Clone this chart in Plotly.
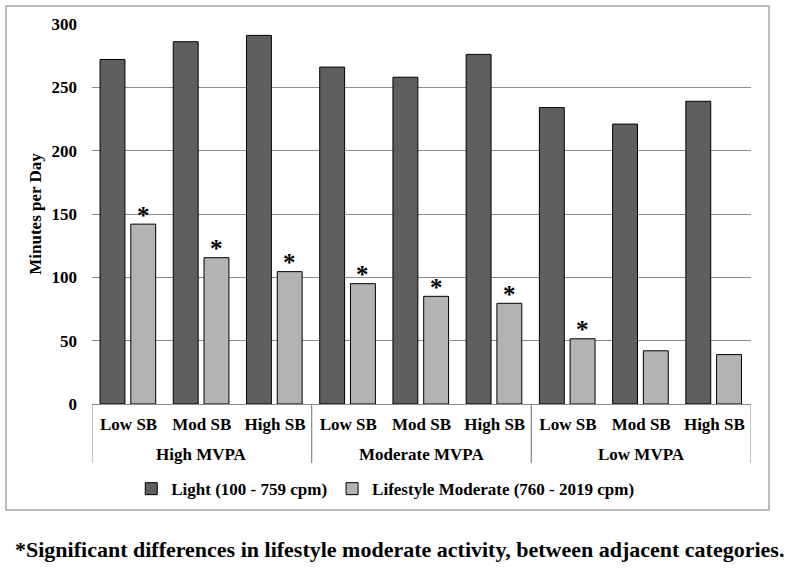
import plotly.graph_objects as go

groups = ["High MVPA"] * 3 + ["Moderate MVPA"] * 3 + ["Low MVPA"] * 3
sb_levels = ["Low SB", "Mod SB", "High SB"] * 3
light = [272, 286, 291, 266, 258, 276, 234, 221, 239]
lifestyle = [142, 115.5, 104.5, 95, 85, 79.5, 51.5, 42, 39]
sig_marks = ["*", "*", "*", "*", "*", "*", "*", "", ""]
y_ticks = [0, 50, 100, 150, 200, 250, 300]

FONT = "Liberation Serif"
GRID = "#8c8c8c"
x_pos = list(range(len(sb_levels)))

LIGHT_OFF, LIFE_OFF, BAR_W = -0.39, 0.03, 0.34

fig = go.Figure()
fig.add_trace(go.Bar(
    x=x_pos, y=light, name="Light (100 - 759 cpm)",
    offset=LIGHT_OFF, width=BAR_W,
    marker=dict(color="#5f5f5f", line=dict(color="#000000", width=1)),
))
fig.add_trace(go.Bar(
    x=x_pos, y=lifestyle, name="Lifestyle Moderate (760 - 2019 cpm)",
    offset=LIFE_OFF, width=BAR_W,
    marker=dict(color="#b3b3b3", line=dict(color="#000000", width=1)),
))

annotations = []
# significance asterisks above lifestyle bars
for xp, val, mark in zip(x_pos, lifestyle, sig_marks):
    if mark:
        annotations.append(dict(x=xp + LIFE_OFF + BAR_W / 2, y=val, xref="x", yref="y",
                                text=mark, showarrow=False, yanchor="middle", yshift=9,
                                font=dict(family=FONT, size=25, weight="bold", color="#000")))

# group labels and dividers
group_names = []
for g in groups:
    if g not in group_names:
        group_names.append(g)
shapes = []
for g in group_names:
    idx = [i for i, gg in enumerate(groups) if gg == g]
    annotations.append(dict(x=sum(idx) / len(idx), y=-0.1316, xref="x", yref="paper",
                            text=g, showarrow=False, yanchor="middle",
                            font=dict(family=FONT, size=17, weight="bold", color="#000")))
    for b in (idx[0] - 0.5, idx[-1] + 0.5):
        shapes.append(dict(type="line", xref="x", yref="paper", x0=b, x1=b, y0=0, y1=-0.155,
                           line=dict(color=GRID, width=1)))

annotations.append(dict(text="*Significant differences in lifestyle moderate activity, between adjacent categories.",
                        xref="paper", yref="paper", x=0.467, y=-0.382, xanchor="center", yanchor="middle",
                        showarrow=False, font=dict(family=FONT, size=22, weight="bold", color="#000")))

shapes.append(dict(type="rect", xref="paper", yref="paper",
                   x0=-0.1305, x1=1.0273, y0=-0.279, y1=1.0474,
                   line=dict(color="#a6a6a6", width=1.5), fillcolor="rgba(0,0,0,0)", layer="below"))

fig.update_layout(
    width=800, height=569,
    margin=dict(l=92, r=49, t=24, b=165),
    paper_bgcolor="white", plot_bgcolor="white",
    barmode="overlay",
    font=dict(family=FONT, size=17, color="#000000", weight="bold"),
    showlegend=True,
    legend=dict(orientation="h", x=0.445, xanchor="center", y=-0.224, yanchor="middle",
                font=dict(family=FONT, size=17, weight="bold"), itemwidth=30,
                traceorder="normal"),
    xaxis=dict(range=[-0.5, len(x_pos) - 0.5], tickvals=x_pos, ticktext=sb_levels,
               showline=True, linecolor=GRID, linewidth=1, showgrid=False, zeroline=False,
               ticks="", ticklabelstandoff=5,
               tickfont=dict(family=FONT, size=17, weight="bold")),
    yaxis=dict(range=[0, 300], tickvals=y_ticks, showgrid=True, gridcolor=GRID,
               gridwidth=1, zeroline=False, showline=False, ticks="",
               ticklabelstandoff=14,
               tickfont=dict(family=FONT, size=17, weight="bold"),
               title=dict(text="Minutes per Day", standoff=5,
                          font=dict(family=FONT, size=17, weight="bold"))),
    shapes=shapes,
    annotations=annotations,
)

fig.write_html("out.html", post_script="document.body.style.margin='0px';",
               config={"displayModeBar": False})
